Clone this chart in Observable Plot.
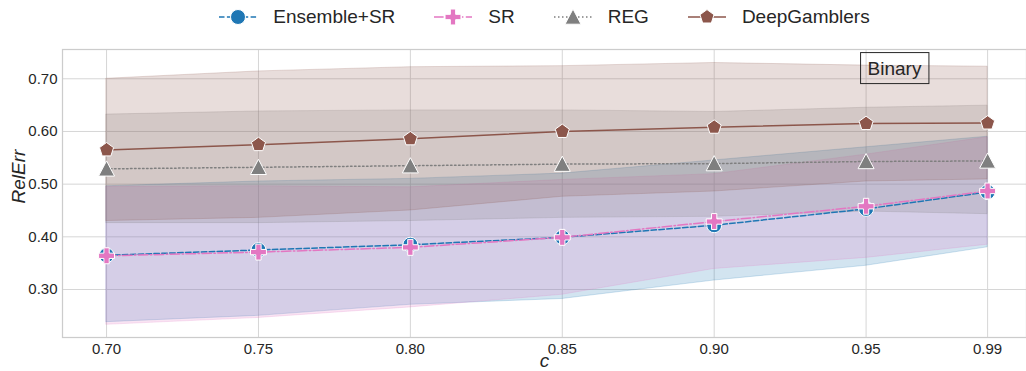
<!DOCTYPE html>
<html><head><meta charset="utf-8">
<script src="https://cdn.jsdelivr.net/npm/d3@7"></script>
<script src="https://cdn.jsdelivr.net/npm/@observablehq/plot@0.6"></script>
<style>
body{margin:0;background:#fff;font-family:"Liberation Sans",Arial,sans-serif;}
#legend{height:34px;width:1026px;display:flex;justify-content:center;align-items:center;padding-left:62px;box-sizing:border-box;}
.item{display:flex;align-items:center;margin-right:38px;}
.item:last-child{margin-right:0;}
.item svg{margin-right:15px;display:block;}
.item span{font-size:19px;color:#262626;}
</style></head>
<body>
<div id="legend"></div>
<div id="chart"></div>
<script>
const cVals = [0.70, 0.75, 0.80, 0.85, 0.90, 0.95, 0.99];
const yTicks = [0.30, 0.40, 0.50, 0.60, 0.70];
const seriesNames = ["Ensemble+SR", "SR", "REG", "DeepGamblers"];
const seriesColors = ["#1f77b4", "#e377c2", "#7f7f7f", "#8c564b"];

const ensMean = [0.365, 0.375, 0.385, 0.399, 0.422, 0.453, 0.485];
const ensLo   = [0.238, 0.250, 0.271, 0.282, 0.317, 0.345, 0.380];
const ensHi   = [0.496, 0.505, 0.510, 0.520, 0.545, 0.570, 0.590];
const srMean  = [0.364, 0.371, 0.380, 0.399, 0.429, 0.458, 0.487];
const srLo    = [0.233, 0.246, 0.266, 0.290, 0.339, 0.360, 0.385];
const srHi    = [0.495, 0.496, 0.494, 0.508, 0.519, 0.556, 0.589];
const regMean = [0.529, 0.532, 0.535, 0.538, 0.539, 0.543, 0.544];
const regLo   = [0.426, 0.426, 0.430, 0.436, 0.438, 0.448, 0.443];
const regHi   = [0.632, 0.638, 0.640, 0.640, 0.637, 0.645, 0.649];
const dgMean  = [0.565, 0.575, 0.586, 0.600, 0.608, 0.615, 0.616];
const dgLo    = [0.430, 0.436, 0.450, 0.476, 0.486, 0.505, 0.509];
const dgHi    = [0.700, 0.714, 0.722, 0.724, 0.730, 0.725, 0.723];

const means = [ensMean, srMean, regMean, dgMean];
const los = [ensLo, srLo, regLo, dgLo];
const his = [ensHi, srHi, regHi, dgHi];

// custom matplotlib-like symbols
const pentagon = {draw(ctx, size){
  const R = Math.sqrt(size/Math.PI);
  for(let i=0;i<5;i++){const a=-Math.PI/2+i*2*Math.PI/5;const px=R*Math.cos(a),py=R*Math.sin(a);i?ctx.lineTo(px,py):ctx.moveTo(px,py);}
  ctx.closePath();}};
const triUp = {draw(ctx, size){
  const a = Math.sqrt(size/Math.PI);
  ctx.moveTo(0,-a); ctx.lineTo(-a,a*0.9); ctx.lineTo(a,a*0.9); ctx.closePath();}};
const symbols = [d3.symbolCircle, d3.symbolCross, triUp, pentagon];
const radii = [7.5, 6.7, 8, 7.4];
const dashes = ["5.5,2.4", "9.6,2.4,1.5,2.4", "1.5,2.5", null];

const rows = seriesNames.map((name, s) => cVals.map((c, i) => ({c, v: means[s][i], lo: los[s][i], hi: his[s][i], name})));

// legend
const legend = d3.select("#legend");
seriesNames.forEach((name, s) => {
  const item = legend.append("div").attr("class", "item");
  const svg = item.append("svg").attr("width", 40).attr("height", 20);
  const ln = svg.append("line").attr("x1", 1).attr("x2", 39).attr("y1", 10).attr("y2", 10)
    .attr("stroke", seriesColors[s]).attr("stroke-width", 1.5);
  if (dashes[s]) ln.attr("stroke-dasharray", dashes[s]);
  svg.append("path").attr("transform", "translate(20,10)")
    .attr("d", d3.symbol(symbols[s], Math.PI * radii[s] * radii[s])())
    .attr("fill", seriesColors[s]).attr("stroke", "white").attr("stroke-width", 1);
  item.append("span").text(name);
});

const marks = [
  Plot.gridX({ticks: cVals, stroke: "#d6d6d6", strokeOpacity: 1, strokeWidth: 1}),
  Plot.gridY({ticks: yTicks, stroke: "#d6d6d6", strokeOpacity: 1, strokeWidth: 1}),
];
rows.forEach((r, s) => marks.push(Plot.areaY(r, {x: "c", y1: "lo", y2: "hi", fill: seriesColors[s], fillOpacity: 0.2, stroke: seriesColors[s], strokeOpacity: 0.2, strokeWidth: 1})));
rows.forEach((r, s) => {
  marks.push(Plot.line(r, {x: "c", y: "v", stroke: seriesColors[s], strokeWidth: 1.5, strokeDasharray: dashes[s] || undefined}));
  marks.push(Plot.dot(r, {x: "c", y: "v", symbol: symbols[s], r: radii[s], fill: seriesColors[s], stroke: "white", strokeWidth: 1}));
});
marks.push(
  Plot.frame({stroke: "#cccccc", strokeWidth: 1.25}),
  Plot.axisX({ticks: cVals, tickFormat: d3.format(".2f"), tickSize: 0, tickPadding: 6, label: null, fontSize: 15, fill: "#262626"}),
  Plot.axisY({ticks: yTicks, tickFormat: d3.format(".2f"), tickSize: 0, tickPadding: 5, label: null, fontSize: 15, fill: "#262626"}),
  Plot.text(["c"], {frameAnchor: "bottom", dy: 23, fontStyle: "italic", fontSize: 19, fill: "#262626", lineAnchor: "middle"}),
  Plot.text(["RelErr"], {frameAnchor: "left", rotate: -90, dx: -44, dy: 10, fontStyle: "italic", fontSize: 19, fill: "#262626"}),
  Plot.text(["Binary"], {frameAnchor: "top-right", dx: -132, dy: 19, fontSize: 19, fill: "#262626", textAnchor: "middle", lineAnchor: "middle"})
);

const chart = Plot.plot({
  width: 1026, height: 337,
  marginLeft: 62, marginRight: 0, marginTop: 15, marginBottom: 34,
  style: {fontFamily: "Liberation Sans, Arial, sans-serif", fontSize: "15px", background: "white"},
  x: {type: "linear", domain: [0.6855, 1.0028]},
  y: {domain: [0.2089, 0.7556]},
  marks
});
document.getElementById("chart").appendChild(chart);

// box around the "Binary" annotation
d3.select(chart).selectAll("text").filter(function(){ return this.textContent === "Binary"; }).each(function(){
  const bb = this.getBBox();
  const g = this.parentNode;
  d3.select(g).insert("rect", () => this)
    .attr("x", bb.x - 7).attr("y", bb.y - 5).attr("width", bb.width + 14).attr("height", bb.height + 10)
    .attr("fill", "none").attr("stroke", "#262626").attr("stroke-width", 1)
    .attr("transform", this.getAttribute("transform"));
});
</script>
</body></html>
